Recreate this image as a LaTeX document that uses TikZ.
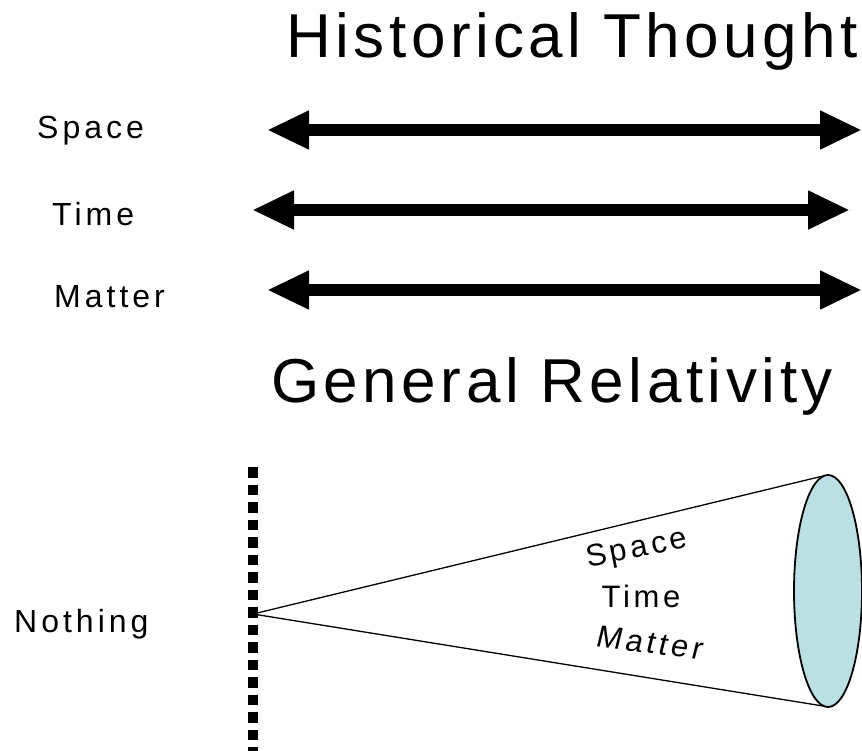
\documentclass[tikz,border=0pt]{standalone}
\usepackage{fontspec}
\setmainfont{Liberation Sans}
\newfontfamily\titlefont[LetterSpace=7.3]{Liberation Sans}
\newfontfamily\labelfont[LetterSpace=12.5]{Liberation Sans}
\newfontfamily\conefont[LetterSpace=12]{Liberation Sans}
\usetikzlibrary{arrows.meta,shapes.geometric}
\definecolor{conefill}{RGB}{187,224,227}
\tikzset{
  bigarrow/.style={line width=12pt,{Triangle[length=42pt,width=36pt]}-{Triangle[length=42pt,width=36pt]}},
  titletext/.style={anchor=base west,inner sep=0pt,font=\titlefont\fontsize{62}{62}\selectfont},
  labeltext/.style={anchor=base west,inner sep=0pt,font=\labelfont\fontsize{32}{32}\selectfont},
  conetext/.style={inner sep=0pt,font=\conefont\fontsize{31}{31}\selectfont},
  coneline/.style={line width=1.3pt},
  wall/.style={line width=10.5pt,dash pattern=on 10.5pt off 7pt}
}
\begin{document}
\begin{tikzpicture}[x=1pt,y=-1pt]
\useasboundingbox (0,0) rectangle (862,751);
% titles
\node[titletext] (hist) at (286,58) {Historical Thought};
\node[titletext] (gr) at (271,402) {General Relativity};
% labels
\node[labeltext] (space) at (37,139) {Space};
\node[labeltext] (time) at (52,226) {Time};
\node[labeltext] (matter) at (54,308) {Matter};
\node[labeltext] (nothing) at (14,632) {Nothing};
% arrows
\coordinate (a1l) at (267,130); \coordinate (a1r) at (862,130);
\coordinate (a2l) at (252,210); \coordinate (a2r) at (850,210);
\coordinate (a3l) at (267,290); \coordinate (a3r) at (862,290);
\draw[bigarrow] (a1l) -- (a1r);
\draw[bigarrow] (a2l) -- (a2r);
\draw[bigarrow] (a3l) -- (a3r);
% wall
\coordinate (wtop) at (253,467); \coordinate (wbot) at (253,758);
\draw[wall] (wtop) -- (wbot);
% cone
\coordinate (apex) at (253,614);
\node[draw,line width=1.8pt,fill=conefill,ellipse,minimum width=68pt,minimum height=232pt,inner sep=0pt] (disc) at (828,591) {};
\coordinate (ctop) at (823,476);
\coordinate (cbot) at (823,706);
\draw[coneline] (apex) -- (ctop);
\draw[coneline] (apex) -- (cbot);
\node[conetext,rotate=11.3] (cspace) at (637,550) {Space};
\node[conetext] (ctime) at (641,596) {Time};
\node[conetext,rotate=-7,xslant=0.12] (cmatter) at (650,643) {Matter};
\end{tikzpicture}
\end{document}
